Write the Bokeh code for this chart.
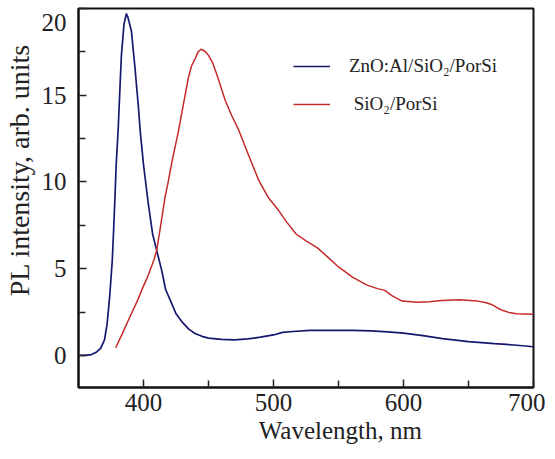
from bokeh.plotting import figure
from bokeh.models import Range1d, FixedTicker, Legend, LegendItem
from bokeh.embed import file_html
from bokeh.resources import INLINE

# ZnO:Al/SiO2/PorSi (blue)
zno_wl = [350, 355, 360, 364, 367, 370, 372, 374, 376, 377, 378, 379, 380.5, 382, 383, 385,
          386.8, 388, 390.7, 393.3, 396, 397.5, 400, 403.6, 407, 410, 414, 417, 420.5, 425,
          430, 435, 440, 445, 450, 460, 470, 480, 490, 500, 507, 515, 528, 545, 561, 575,
          588, 600, 615, 630, 650, 670, 685, 700]
zno_pl = [0.0, 0.0, 0.05, 0.2, 0.4, 0.9, 1.8, 3.4, 5.5, 7.2, 9.0, 11.0, 13.0, 15.6, 17.3, 19.1,
          19.7, 19.5, 18.7, 16.7, 14.4, 12.9, 11.0, 8.8, 7.0, 6.1, 4.9, 3.8, 3.2, 2.4,
          1.9, 1.5, 1.25, 1.1, 1.0, 0.92, 0.9, 0.95, 1.05, 1.18, 1.33, 1.38, 1.44, 1.45, 1.44, 1.42,
          1.36, 1.29, 1.14, 0.97, 0.8, 0.68, 0.6, 0.5]

# SiO2/PorSi (red)
sio_wl = [378.6, 384, 389.4, 395, 399.7, 403, 406, 408, 410, 412.6, 416.5, 419, 421.6, 426.8,
          431, 434.5, 437, 439.7, 442, 444.3, 447, 450, 453, 456.4, 462.9, 468, 473.2, 480,
          488.6, 496, 504, 510, 517.4, 525, 533.8, 542, 550, 561, 572, 580, 585.7, 591, 599,
          610, 620, 629.5, 643, 656.8, 663, 667.7, 672, 676, 681, 687, 700]
sio_pl = [0.44, 1.3, 2.2, 3.1, 3.95, 4.5, 5.1, 5.5, 6.0, 7.2, 9.1, 10.0, 11.06, 12.9,
          14.6, 16.0, 16.7, 17.1, 17.5, 17.65, 17.55, 17.3, 16.9, 16.2, 14.7, 13.8, 13.0, 11.7,
          10.1, 9.1, 8.35, 7.7, 7.0, 6.6, 6.2, 5.65, 5.1, 4.5, 4.05, 3.85, 3.75, 3.45, 3.13,
          3.07, 3.1, 3.17, 3.21, 3.13, 3.05, 2.94, 2.75, 2.6, 2.48, 2.4, 2.38]

x_major = [400, 500, 600, 700]
x_minor = [450, 550, 650]
y_major = [0, 5, 10, 15, 20]
y_minor = [2.5, 7.5, 12.5, 17.5]
series_labels = ["ZnO:Al/SiO\u2082/PorSi", "\u00a0SiO\u2082/PorSi"]
x_title = "Wavelength, nm"
y_title = "PL intensity, arb. units"

FONT = "Liberation Serif"
NB = "\u00a0"

p = figure(width=545, height=459, output_backend="svg", toolbar_location=None,
           x_range=Range1d(350, 700), y_range=Range1d(-1.85, 20),
           min_border_left=73, min_border_right=12, min_border_top=8, min_border_bottom=72)
p.grid.visible = False
p.outline_line_color = "#111111"
p.outline_line_width = 2
p.background_fill_color = "white"
p.border_fill_color = "white"

r1 = p.line(zno_wl, zno_pl, line_color="#16186e", line_width=1.7)
r2 = p.line(sio_wl, sio_pl, line_color="#c42a2a", line_width=1.5)

for ax in (p.xaxis[0], p.yaxis[0]):
    ax.axis_line_width = 2
    ax.axis_line_color = "#111111"
    ax.major_tick_in = 8
    ax.major_tick_out = 0
    ax.minor_tick_in = 7
    ax.minor_tick_out = 0
    ax.major_tick_line_width = 1.5
    ax.minor_tick_line_width = 1.5
    ax.major_tick_line_color = "#222222"
    ax.minor_tick_line_color = "#222222"
    ax.major_label_text_font = FONT
    ax.major_label_text_font_size = "25px"
    ax.major_label_text_color = "#222222"
    ax.axis_label_text_font = FONT
    ax.axis_label_text_font_style = "normal"
    ax.axis_label_text_color = "#222222"

p.xaxis.ticker = FixedTicker(ticks=x_major, minor_ticks=x_minor)
p.yaxis.ticker = FixedTicker(ticks=y_major, minor_ticks=y_minor)
p.xaxis.axis_label = NB * 11 + x_title
p.yaxis.axis_label = NB * 8 + y_title
p.xaxis.axis_label_text_font_size = "25px"
p.yaxis.axis_label_text_font_size = "28px"
p.xaxis.major_label_standoff = 6
p.xaxis.axis_label_standoff = 3
p.yaxis.major_label_standoff = 12
p.yaxis.axis_label_standoff = 4
p.yaxis.major_label_text_line_height = 0.3
p.yaxis.major_label_overrides = {20: "\n20"}

legend = Legend(items=[LegendItem(label=series_labels[0], renderers=[r1]),
                       LegendItem(label=series_labels[1], renderers=[r2])],
                location=(215, 270), orientation="vertical")
legend.padding = 0
legend.margin = 0
legend.border_line_color = None
legend.background_fill_alpha = 0
legend.glyph_width = 37
legend.glyph_height = 26
legend.label_height = 26
legend.label_standoff = 19
legend.spacing = 12
legend.label_text_font = FONT
legend.label_text_font_size = "19px"
legend.label_text_color = "#222222"
p.add_layout(legend, "center")

open("out.html", "w").write(file_html(p, INLINE))
